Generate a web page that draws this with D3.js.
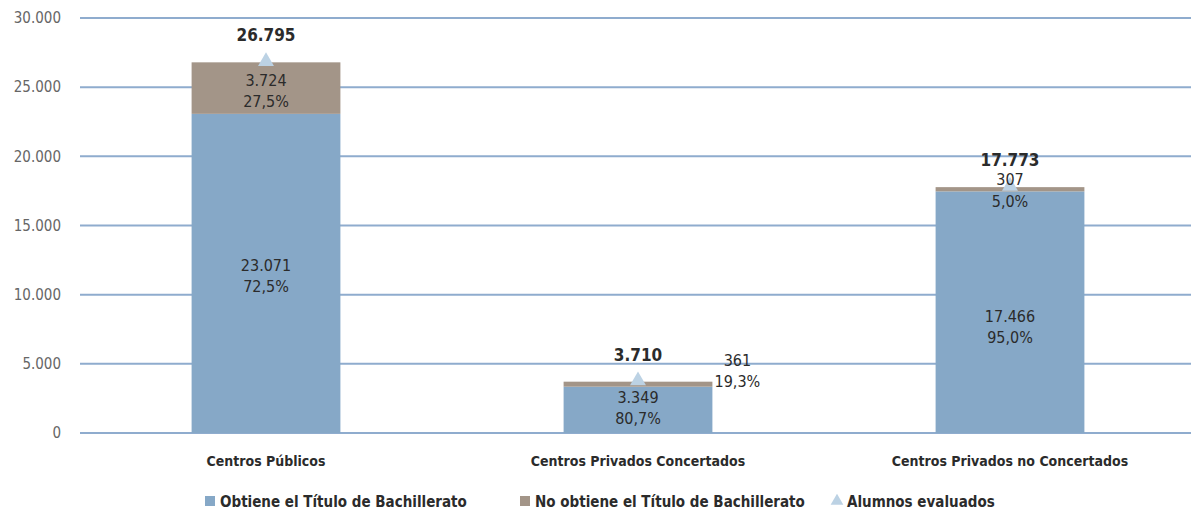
<!DOCTYPE html>
<html>
<head>
<meta charset="utf-8">
<script src="https://cdn.jsdelivr.net/npm/d3@7"></script>
<style>
  body { margin: 0; background: #fff; }
  svg { font-family: "Liberation Sans Narrow", "DejaVu Sans Condensed", "Liberation Sans", sans-serif; }
</style>
</head>
<body>
<div id="root"></div>
<script>
// data
const categories = ["Centros Públicos", "Centros Privados Concertados", "Centros Privados no Concertados"]
const obtiene = [23071, 3349, 17466]
const noObtiene = [3724, 361, 307]
const evaluados = [26795, 3710, 17773]
const pctObtiene = ["72,5%", "80,7%", "95,0%"]
const pctNoObtiene = ["27,5%", "19,3%", "5,0%"]
const yTicks = [0, 5000, 10000, 15000, 20000, 25000, 30000]
const legendLabels = ["Obtiene el Título de Bachillerato", "No obtiene el Título de Bachillerato", "Alumnos evaluados"]

const fmt = v => d3.format(",")(v).replace(/,/g, ".")

const wrapper = { width: 1191, height: 517 }
const plot = { left: 80, right: 1196, top: 18, bottom: 433 }

const colors = { blue: "#86a8c7", brown: "#a39588", grid: "#8facce", tri: "#bcd2e4", text: "#2b2b2b" }

const svg = d3.select("#root").append("svg")
  .attr("width", wrapper.width)
  .attr("height", wrapper.height)

const x = d3.scaleBand().domain(categories).range([plot.left, plot.right]).paddingInner(0.6).paddingOuter(0.3)
const y = d3.scaleLinear().domain([0, 30000]).range([plot.bottom, plot.top])

// grid
svg.append("g").selectAll("line").data(yTicks).join("line")
  .attr("x1", plot.left).attr("x2", wrapper.width)
  .attr("y1", d => y(d)).attr("y2", d => y(d))
  .attr("stroke", colors.grid).attr("stroke-width", 2)

// y axis labels
svg.append("g").selectAll("text").data(yTicks).join("text")
  .attr("x", 61).attr("y", d => y(d)).attr("dy", "0.35em")
  .attr("text-anchor", "end").attr("font-size", 15).attr("fill", "#666")
  .text(d => fmt(d))

const rows = categories.map((c, i) => ({ c, i, ob: obtiene[i], no: noObtiene[i], tot: evaluados[i] }))

// bars
const bars = svg.append("g")
bars.selectAll(".ob").data(rows).join("rect")
  .attr("x", d => x(d.c)).attr("width", x.bandwidth())
  .attr("y", d => y(d.ob)).attr("height", d => y(0) - y(d.ob))
  .attr("fill", colors.blue)
bars.selectAll(".no").data(rows).join("rect")
  .attr("x", d => x(d.c)).attr("width", x.bandwidth())
  .attr("y", d => y(d.ob + d.no)).attr("height", d => y(d.ob) - y(d.ob + d.no))
  .attr("fill", colors.brown)

// triangles
const tri = d3.symbol().type(d3.symbolTriangle).size(110)
svg.append("g").selectAll("path").data(rows).join("path")
  .attr("d", tri)
  .attr("transform", d => `translate(${x(d.c) + x.bandwidth() / 2},${y(d.tot) - 1})`)
  .attr("fill", colors.tri)

// labels
const lab = svg.append("g").attr("fill", colors.text).attr("text-anchor", "middle").attr("font-size", 16)
const cx = d => x(d.c) + x.bandwidth() / 2

// totals
lab.selectAll(".tot").data(rows).join("text")
  .attr("x", cx).attr("y", d => y(d.tot) - 21)
  .attr("font-weight", "bold").attr("font-size", 17)
  .text(d => fmt(d.tot))

// obtiene labels
const obPos = [
  d => (y(d.ob) + y(0)) / 2,
  d => y(d.ob) + 18,
  d => (y(d.ob) + y(0)) / 2 + 12
]
rows.forEach(d => {
  const yy = obPos[d.i](d)
  lab.append("text").attr("x", cx(d)).attr("y", yy - 2).text(fmt(d.ob))
  lab.append("text").attr("x", cx(d)).attr("y", yy + 19).text(pctObtiene[d.i])
})

// no obtiene labels
const r0 = rows[0]
lab.append("text").attr("x", cx(r0)).attr("y", y(r0.ob + r0.no) + 24).text(fmt(r0.no))
lab.append("text").attr("x", cx(r0)).attr("y", y(r0.ob + r0.no) + 45).text(pctNoObtiene[0])
const r1 = rows[1]
lab.append("text").attr("x", x(r1.c) + x.bandwidth() + 25).attr("y", y(r1.tot) - 16).text(fmt(r1.no))
lab.append("text").attr("x", x(r1.c) + x.bandwidth() + 25).attr("y", y(r1.tot) + 5).text(pctNoObtiene[1])
const r2 = rows[2]
lab.append("text").attr("x", cx(r2)).attr("y", y(r2.tot) - 2).text(fmt(r2.no))
lab.append("text").attr("x", cx(r2)).attr("y", y(r2.tot) + 20).text(pctNoObtiene[2])

// category labels
svg.append("g").selectAll("text").data(categories).join("text")
  .attr("x", d => x(d) + x.bandwidth() / 2).attr("y", 466)
  .attr("text-anchor", "middle").attr("font-size", 14).attr("font-weight", "bold").attr("fill", colors.text)
  .text(d => d)

// legend
const legendX = [205, 520, 832]
const legend = svg.append("g")
legendLabels.forEach((t, i) => {
  const g = legend.append("g").attr("transform", `translate(${legendX[i]},507)`)
  if (i < 2) {
    g.append("rect").attr("x", 0).attr("y", -11).attr("width", 10).attr("height", 10)
      .attr("fill", i === 0 ? colors.blue : colors.brown)
  } else {
    g.append("path").attr("d", d3.symbol().type(d3.symbolTriangle).size(70)).attr("transform", "translate(5,-6)")
      .attr("fill", colors.tri)
  }
  g.append("text").attr("x", 15).attr("y", 0).attr("font-size", 15).attr("font-weight", "bold")
    .attr("fill", colors.text).text(t)
})
</script>
</body>
</html>
